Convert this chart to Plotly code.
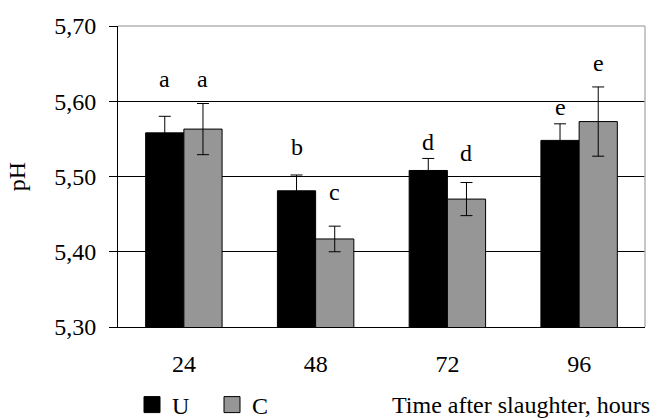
import plotly.graph_objects as go

categories = ["24", "48", "72", "96"]
u_values = [5.558, 5.481, 5.508, 5.548]
u_errors = [0.022, 0.021, 0.016, 0.022]
c_values = [5.563, 5.417, 5.470, 5.573]
c_errors = [0.034, 0.017, 0.022, 0.046]
u_letters = ["a", "b", "d", "e"]
c_letters = ["a", "c", "d", "e"]
u_letter_y = [5.630, 5.539, 5.546, 5.593]
c_letter_y = [5.630, 5.480, 5.531, 5.651]
y_ticks = [5.30, 5.40, 5.50, 5.60, 5.70]

FONT = "Liberation Serif, Times New Roman, serif"
FS = 24
U_COLOR = "#000000"
C_COLOR = "#969696"

fig = go.Figure()
fig.add_trace(go.Bar(
    name="U", x=categories, y=u_values, showlegend=False,
    marker=dict(color=U_COLOR, line=dict(color="#000000", width=1)),
    error_y=dict(type="data", array=u_errors, color="#000000", thickness=1, width=6),
))
fig.add_trace(go.Bar(
    name="C", x=categories, y=c_values, showlegend=False,
    marker=dict(color=C_COLOR, line=dict(color="#000000", width=1)),
    error_y=dict(type="data", array=c_errors, color="#000000", thickness=1, width=6),
))
# legend entries (square swatches)
for nm, col in (("U", U_COLOR), ("C", C_COLOR)):
    fig.add_trace(go.Scatter(
        name=nm, x=[None], y=[None], mode="markers",
        marker=dict(symbol="square", size=16, color=col, line=dict(color="#000", width=1)),
    ))

annotations = []
for i, (txt, yy) in enumerate(zip(u_letters, u_letter_y)):
    annotations.append(dict(x=i, y=yy, text=txt, xref="x", yref="y", showarrow=False,
                            xshift=-19, font=dict(family=FONT, size=FS, color="#000")))
for i, (txt, yy) in enumerate(zip(c_letters, c_letter_y)):
    annotations.append(dict(x=i, y=yy, text=txt, xref="x", yref="y", showarrow=False,
                            xshift=19, font=dict(family=FONT, size=FS, color="#000")))
annotations.append(dict(text="Time after slaughter, hours", xref="paper", yref="paper",
                        x=1.0135, y=-0.259, xanchor="right", yanchor="middle",
                        showarrow=False, font=dict(family=FONT, size=FS, color="#000")))
annotations.append(dict(text="pH", xref="paper", yref="paper", x=-0.192, y=0.5,
                        xanchor="center", yanchor="middle", textangle=-90, showarrow=False,
                        font=dict(family=FONT, size=FS, color="#000")))

fig.update_layout(
    width=654, height=419,
    margin=dict(l=118, r=9, t=26, b=92, autoexpand=False),
    paper_bgcolor="white", plot_bgcolor="white",
    separators=", ",
    barmode="group", bargap=0.42, bargroupgap=0,
    font=dict(family=FONT, size=FS, color="#000"),
    showlegend=True,
    legend=dict(orientation="h", xref="container", yref="container",
                x=132 / 654, y=1 - 405 / 419, xanchor="left", yanchor="middle",
                font=dict(family=FONT, size=FS, color="#000"),
                itemwidth=30, entrywidth=35, entrywidthmode="pixels",
                bgcolor="rgba(0,0,0,0)", borderwidth=0),
    annotations=annotations,
    shapes=[
        dict(type="line", xref="paper", yref="paper", x0=0, x1=1, y0=1, y1=1,
             line=dict(color="#b4b4b4", width=1.5)),
        dict(type="line", xref="paper", yref="paper", x0=1, x1=1, y0=0, y1=1,
             line=dict(color="#b4b4b4", width=1.5)),
    ],
)
fig.update_xaxes(
    type="category", showgrid=False, showline=True, linecolor="#000", linewidth=1,
    ticks="", ticklabelstandoff=15, automargin=False,
    tickfont=dict(family=FONT, size=FS, color="#000"),
)
fig.update_yaxes(
    range=[5.30, 5.70], tickvals=y_ticks, tickformat=".2f", automargin=False,
    showgrid=True, gridcolor="#000", gridwidth=1,
    showline=True, linecolor="#000", linewidth=1,
    ticks="outside", ticklen=8, tickcolor="#000", ticklabelstandoff=8,
    tickfont=dict(family=FONT, size=FS, color="#000"),
    zeroline=False,
)

fig.write_html("out.html", config={"displayModeBar": False},
               post_script="document.body.style.margin='0px';document.body.style.overflow='hidden';")
